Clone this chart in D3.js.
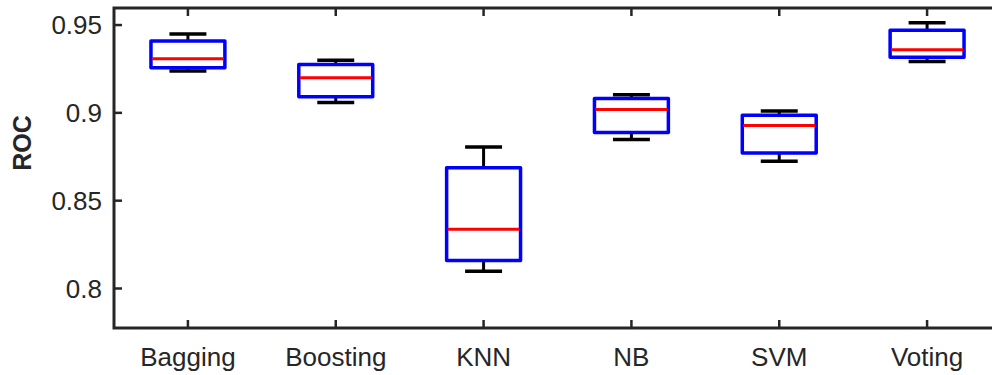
<!DOCTYPE html>
<html>
<head>
<meta charset="utf-8">
<script src="https://cdn.jsdelivr.net/npm/d3@7"></script>
<style>
  body { margin: 0; background: #fff; overflow: hidden; }
  svg { display: block; }
  text { font-family: "Liberation Sans", Arial, sans-serif; fill: #262626; }
</style>
</head>
<body>
<div id="chart"></div>
<script>
// box stats
var categories = ["Bagging", "Boosting", "KNN", "NB", "SVM", "Voting"];
var lowerWhisker = [0.9238, 0.9059, 0.8098, 0.8848, 0.8725, 0.9293];
var q1 = [0.9257, 0.9091, 0.8160, 0.8888, 0.8772, 0.9316];
var medians = [0.9308, 0.9200, 0.8337, 0.9019, 0.8928, 0.9359];
var q3 = [0.9409, 0.9276, 0.8687, 0.9082, 0.8987, 0.9471];
var upperWhisker = [0.9449, 0.9300, 0.8806, 0.9103, 0.9011, 0.9513];
var yTicks = [0.8, 0.85, 0.9, 0.95];
var yTickLabels = ["0.8", "0.85", "0.9", "0.95"];

var width = 992, height = 375;
var plotLeft = 114, plotRight = 1001, plotTop = 8, plotBottom = 328;
var axisColor = "#262626";
var fontSize = "26px";

var svg = d3.select("#chart").append("svg")
    .attr("width", width)
    .attr("height", height);

var x = d3.scalePoint()
    .domain(categories)
    .range([plotLeft, plotRight])
    .padding(0.5);

var y = d3.scaleLinear()
    .domain([0.7775, 0.9597])
    .range([plotBottom, plotTop]);

var step = x.step();
var boxW = step * 0.5;
var capW = step * 0.25;

var data = categories.map(function(c, i) {
    return { name: c, lo: lowerWhisker[i], q1: q1[i], med: medians[i], q3: q3[i], hi: upperWhisker[i] };
});

var g = svg.append("g").attr("class", "boxes");

var box = g.selectAll(".box")
    .data(data)
    .enter().append("g")
    .attr("class", "box");

// whiskers
box.append("line")
    .attr("x1", function(d) { return x(d.name); })
    .attr("x2", function(d) { return x(d.name); })
    .attr("y1", function(d) { return y(d.hi); })
    .attr("y2", function(d) { return y(d.q3); })
    .style("stroke", "#000").style("stroke-width", 3);
box.append("line")
    .attr("x1", function(d) { return x(d.name); })
    .attr("x2", function(d) { return x(d.name); })
    .attr("y1", function(d) { return y(d.q1); })
    .attr("y2", function(d) { return y(d.lo); })
    .style("stroke", "#000").style("stroke-width", 3);

// caps
box.append("line")
    .attr("x1", function(d) { return x(d.name) - capW / 2; })
    .attr("x2", function(d) { return x(d.name) + capW / 2; })
    .attr("y1", function(d) { return y(d.hi); })
    .attr("y2", function(d) { return y(d.hi); })
    .style("stroke", "#000").style("stroke-width", 3.5);
box.append("line")
    .attr("x1", function(d) { return x(d.name) - capW / 2; })
    .attr("x2", function(d) { return x(d.name) + capW / 2; })
    .attr("y1", function(d) { return y(d.lo); })
    .attr("y2", function(d) { return y(d.lo); })
    .style("stroke", "#000").style("stroke-width", 3.5);

// box
box.append("rect")
    .attr("x", function(d) { return x(d.name) - boxW / 2; })
    .attr("y", function(d) { return y(d.q3); })
    .attr("width", boxW)
    .attr("height", function(d) { return y(d.q1) - y(d.q3); })
    .style("fill", "none")
    .style("stroke", "#0000ff")
    .style("stroke-width", 3.5)
    .style("stroke-linejoin", "round");

// median
box.append("line")
    .attr("x1", function(d) { return x(d.name) - boxW / 2 + 1; })
    .attr("x2", function(d) { return x(d.name) + boxW / 2 - 1; })
    .attr("y1", function(d) { return y(d.med); })
    .attr("y2", function(d) { return y(d.med); })
    .style("stroke", "#ff0000").style("stroke-width", 3);

// axes frame
var tickLen = 8;
var axes = svg.append("g").attr("class", "axes");

axes.append("rect")
    .attr("x", plotLeft).attr("y", plotTop)
    .attr("width", plotRight - plotLeft).attr("height", plotBottom - plotTop)
    .style("fill", "none")
    .style("stroke", axisColor)
    .style("stroke-width", 3);

// y ticks (left and right, inward)
axes.selectAll(".ytick-l")
    .data(yTicks)
    .enter().append("line")
    .attr("x1", plotLeft).attr("x2", plotLeft + tickLen)
    .attr("y1", function(d) { return y(d); })
    .attr("y2", function(d) { return y(d); })
    .style("stroke", axisColor).style("stroke-width", 2.5);
axes.selectAll(".ytick-r")
    .data(yTicks)
    .enter().append("line")
    .attr("x1", plotRight).attr("x2", plotRight - tickLen)
    .attr("y1", function(d) { return y(d); })
    .attr("y2", function(d) { return y(d); })
    .style("stroke", axisColor).style("stroke-width", 2.5);

axes.selectAll(".ylabel")
    .data(yTicks)
    .enter().append("text")
    .attr("x", plotLeft - 12)
    .attr("y", function(d) { return y(d); })
    .attr("dy", "0.36em")
    .attr("text-anchor", "end")
    .style("font-size", fontSize)
    .text(function(d, i) { return yTickLabels[i]; });

// x ticks (bottom and top, inward)
axes.selectAll(".xtick-b")
    .data(categories)
    .enter().append("line")
    .attr("x1", function(d) { return x(d); })
    .attr("x2", function(d) { return x(d); })
    .attr("y1", plotBottom).attr("y2", plotBottom - tickLen)
    .style("stroke", axisColor).style("stroke-width", 2.5);
axes.selectAll(".xtick-t")
    .data(categories)
    .enter().append("line")
    .attr("x1", function(d) { return x(d); })
    .attr("x2", function(d) { return x(d); })
    .attr("y1", plotTop).attr("y2", plotTop + tickLen)
    .style("stroke", axisColor).style("stroke-width", 2.5);

axes.selectAll(".xlabel")
    .data(categories)
    .enter().append("text")
    .attr("x", function(d) { return x(d); })
    .attr("y", 366)
    .attr("text-anchor", "middle")
    .style("font-size", fontSize)
    .text(function(d) { return d; });

// y axis title
svg.append("text")
    .attr("transform", "translate(31,143) rotate(-90)")
    .attr("text-anchor", "middle")
    .style("font-size", "25px")
    .style("font-weight", "bold")
    .text("ROC");
</script>
</body>
</html>
